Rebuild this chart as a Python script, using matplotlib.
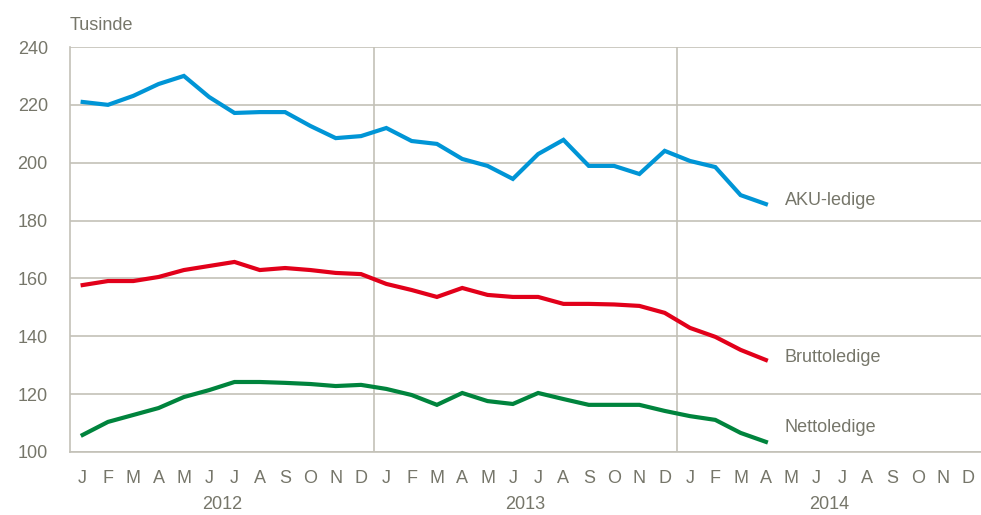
import numpy as np
import matplotlib
matplotlib.use("Agg")
import matplotlib.pyplot as plt

plt.rcParams['font.family'] = ['Liberation Sans Narrow', 'Liberation Sans', 'DejaVu Sans']

# Monthly data, Jan 2012 - Apr 2014 (thousands)
months = ['J', 'F', 'M', 'A', 'M', 'J', 'J', 'A', 'S', 'O', 'N', 'D']
years = ['2012', '2013', '2014']

aku = [221.0, 220.0, 223.1, 227.2, 230.0, 222.7, 217.2, 217.5, 217.5, 212.7, 208.5, 209.2,
       212.0, 207.5, 206.5, 201.3, 198.9, 194.4, 203.0, 207.9, 198.9, 198.9, 196.1, 204.1,
       200.6, 198.5, 188.8, 185.7]
brutto = [157.7, 159.1, 159.1, 160.5, 162.9, 164.3, 165.7, 162.9, 163.6, 162.9, 161.9, 161.5,
          158.1, 156.0, 153.6, 156.7, 154.3, 153.6, 153.6, 151.2, 151.2, 151.0, 150.5, 148.1,
          142.9, 139.8, 135.3, 131.8]
netto = [105.9, 110.4, 112.8, 115.2, 119.0, 121.4, 124.2, 124.2, 123.9, 123.5, 122.8, 123.2,
         121.8, 119.7, 116.3, 120.4, 117.6, 116.6, 120.4, 118.3, 116.3, 116.3, 116.3, 114.2,
         112.4, 111.1, 106.6, 103.5]

series_names = ['AKU-ledige', 'Bruttoledige', 'Nettoledige']
colors = ['#0095d6', '#e2001a', '#00843d']
text_col = '#76766a'
grid_col = '#c3c1b8'

fig = plt.figure(figsize=(9.81, 5.15), dpi=100)
ax = fig.add_axes([70 / 981, 63 / 515, 911 / 981, 405 / 515])

n_months = len(months) * len(years)
ax.set_xlim(0, n_months)
ax.set_ylim(100, 240)

for vals, c in zip([aku, brutto, netto], colors):
    x = np.arange(len(vals)) + 0.5
    ax.plot(x, vals, color=c, lw=3.0, solid_joinstyle='miter', zorder=3)

# labels at line ends
label_y = [aku[-1] + 1.4, brutto[-1] + 1.0, netto[-1] + 4.8]
for name, yv in zip(series_names, label_y):
    ax.text(len(aku) + 0.25, yv, name, color=text_col, fontsize=13, va='center', ha='left')

# grid
ax.set_yticks(np.arange(100, 241, 20))
ax.yaxis.grid(True, color=grid_col, lw=1.2)
for k in range(1, len(years)):
    ax.axvline(k * 12, color=grid_col, lw=1.2, zorder=1)
ax.set_axisbelow(True)

for s in ['top', 'right']:
    ax.spines[s].set_visible(False)
for s in ['left', 'bottom']:
    ax.spines[s].set_color(grid_col)
    ax.spines[s].set_linewidth(1.2)

ax.tick_params(axis='y', length=0, pad=16, labelsize=13, labelcolor=text_col)
ax.set_xticks(np.arange(n_months) + 0.5)
ax.set_xticklabels(months * len(years))
ax.tick_params(axis='x', length=0, pad=13, labelsize=13, labelcolor=text_col)

for i, yr in enumerate(years):
    ax.text(i * 12 + 6, -0.13, yr, transform=ax.get_xaxis_transform(),
            ha='center', va='center', fontsize=13, color=text_col)

fig.text(70 / 981, 1 - 25 / 515, 'Tusinde', ha='left', va='center', fontsize=13, color=text_col)

fig.savefig('out.png', dpi=100)
